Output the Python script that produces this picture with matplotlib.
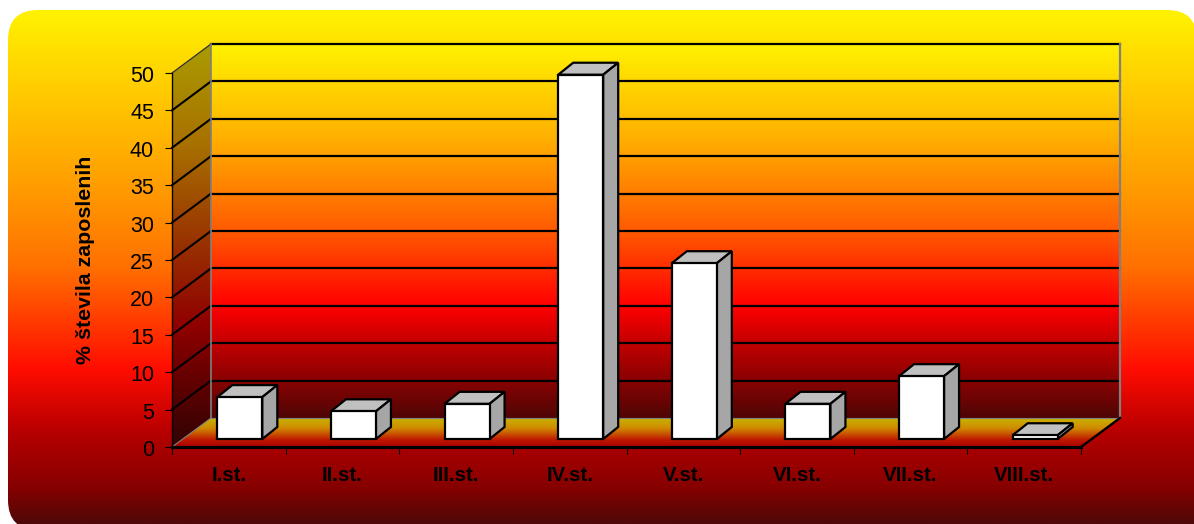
import numpy as np
import matplotlib
matplotlib.use('Agg')
import matplotlib.pyplot as plt
from matplotlib.colors import LinearSegmentedColormap
from matplotlib.patches import FancyBboxPatch, Polygon, Rectangle
from matplotlib.transforms import Affine2D

plt.rcParams['font.family'] = ['Liberation Sans', 'DejaVu Sans']

categories = ['I.st.', 'II.st.', 'III.st.', 'IV.st.', 'V.st.', 'VI.st.', 'VII.st.', 'VIII.st.']
values = [5.6, 3.7, 4.7, 48.7, 23.5, 4.7, 8.4, 0.5]
y_ticks = list(range(0, 55, 5))

W, H = 1194, 524
fig = plt.figure(figsize=(W / 100, H / 100), dpi=100)
fig.patch.set_facecolor('white')

# background panel with rounded corners, it runs off the bottom and right of the picture
bg = fig.add_axes([0, 0, 1, 1])
bg.axis('off')
panel_cmap = LinearSegmentedColormap.from_list('panel', [
    (0.0, '#fff200'), (0.33, '#ffa000'), (0.50, '#ff7000'),
    (0.70, '#ff0c00'), (0.82, '#b80000'), (0.93, '#860000'), (1.0, '#500808')])
panel_grad = np.linspace(0, 1, 256).reshape(-1, 1)
im = bg.imshow(panel_grad, cmap=panel_cmap, aspect='auto', extent=(8, W, H, 10))
box = FancyBboxPatch((38, 40), 1129, 460, boxstyle='round,pad=30', transform=bg.transData,
                     fc='none', ec='none')
bg.add_patch(box)
im.set_clip_path(box)
corner = bg.imshow(panel_grad, cmap=panel_cmap, aspect='auto', extent=(8, W, H, 10))
corner_clip = Rectangle((1100, 300), 94, 224, transform=bg.transData, fc='none', ec='none')
bg.add_patch(corner_clip)
corner.set_clip_path(corner_clip)
bg.set_xlim(0, W)
bg.set_ylim(H, 0)

# the plot area is the front plane of the chart
ax = fig.add_axes([172 / W, (H - 447) / H, (1081 - 172) / W, (447 - 73) / H])
ax.patch.set_visible(False)
n = len(categories)
ymax = y_ticks[-1]
px_x = (1081 - 172) / n
px_y = (447 - 73) / ymax

back = ax.transData + Affine2D().translate(39, 29)
front = ax.transData + Affine2D().translate(11, 8)
dx, dy = 39 / px_x, 29 / px_y
bar_dx, bar_dy = 15 / px_x, 12 / px_y

wall_cmap = LinearSegmentedColormap.from_list('wall', [
    (0.0, '#fff200'), (0.25, '#ffb000'), (0.50, '#ff5a00'),
    (0.70, '#ff0000'), (0.82, '#b80000'), (1.0, '#500505')])
side_cmap = LinearSegmentedColormap.from_list('side', [
    (0.0, '#aa9c00'), (0.25, '#a87000'), (0.50, '#983000'),
    (0.70, '#900000'), (0.82, '#680000'), (1.0, '#300303')])
floor_cmap = LinearSegmentedColormap.from_list('floor', [
    (0.0, '#c8b400'), (0.35, '#d08a00'), (0.75, '#c01800'), (1.0, '#a80000')])
grad = np.linspace(0, 1, 256).reshape(-1, 1)

ax.imshow(grad, cmap=wall_cmap, aspect='auto', extent=(0, n, 0, ymax), transform=back, zorder=1,
          clip_on=False)

side = ax.imshow(grad, cmap=side_cmap, aspect='auto', extent=(0, dx, 0, ymax + dy), zorder=1)
side.set_clip_box(fig.bbox)
side.set_clip_path(Polygon([(0, 0), (dx, dy), (dx, ymax + dy), (0, ymax)], transform=ax.transData))

floor = ax.imshow(grad, cmap=floor_cmap, aspect='auto', extent=(0, n + dx, 0, dy), zorder=1)
floor.set_clip_box(fig.bbox)
floor.set_clip_path(Polygon([(0, 0), (n, 0), (n + dx, dy), (dx, dy)], transform=ax.transData))

# grid lines, on the back wall and running down the side wall
for t in y_ticks[1:]:
    ax.plot([0, n], [t, t], color='black', lw=1.6, transform=back, zorder=2, clip_on=False)
    if t < ymax:
        ax.plot([0, dx], [t, t + dy], color='black', lw=1.5, zorder=2, clip_on=False)
ax.plot([0, dx], [ymax, ymax + dy], color='#303040', lw=0.9, zorder=2, clip_on=False)
ax.plot([0, 0], [0, ymax], color='#808080', lw=1.2, transform=back, zorder=2, clip_on=False)
ax.plot([n, n], [0, ymax], color='#808080', lw=1.6, transform=back, zorder=2, clip_on=False)
ax.plot([0, n], [0, 0], color='#808080', lw=0.8, transform=back, zorder=2, clip_on=False)
ax.plot([0, dx], [0, dy], color='#808080', lw=0.8, zorder=2, clip_on=False)
ax.plot([n, n + dx], [0, dy], color='black', lw=1.7, zorder=2, clip_on=False)

# bars
x = np.arange(n) + 0.5
bar_w = 45 / px_x
for xi, v in zip(x, values):
    l, r = xi - bar_w / 2, xi + bar_w / 2
    ax.add_patch(Polygon([(l, v), (r, v), (r + bar_dx, v + bar_dy), (l + bar_dx, v + bar_dy)],
                         fc='#c0c0c0', ec='black', lw=1.6, transform=front, zorder=3,
                         clip_on=False, joinstyle='miter'))
    ax.add_patch(Polygon([(r, 0), (r + bar_dx, bar_dy), (r + bar_dx, v + bar_dy), (r, v)],
                         fc='#a6a6a6', ec='black', lw=1.6, transform=front, zorder=3,
                         clip_on=False, joinstyle='miter'))
ax.bar(x, values, width=bar_w, color='white', edgecolor='black', linewidth=1.6, transform=front,
       zorder=4, clip_on=False)

ax.set_xlim(0, n)
ax.set_ylim(0, ymax)
for s in ['top', 'right']:
    ax.spines[s].set_visible(False)
ax.spines['left'].set_linewidth(1.0)
ax.spines['bottom'].set_linewidth(2.2)
ax.spines['left'].set_zorder(5)
ax.spines['bottom'].set_zorder(5)

ax.set_yticks(y_ticks)
ax.tick_params(axis='y', length=5, width=0.8, pad=8, labelsize=15.5, colors='black')
for lab in ax.get_yticklabels():
    lab.set_transform(lab.get_transform() + Affine2D().translate(0, -1))
ax.set_xticks(np.arange(n + 1))
ax.set_xticklabels([])
ax.tick_params(axis='x', which='major', length=5, width=0.8)
ax.set_xticks(x, minor=True)
ax.set_xticklabels(categories, minor=True, fontweight='bold', fontsize=14.7)
ax.tick_params(axis='x', which='minor', length=0, pad=14)

ax.set_ylabel('% števila zaposlenih', fontweight='bold', fontsize=15.4)
ax.yaxis.set_label_coords((95 - 172) / (1081 - 172), (447 - 260) / (447 - 73))

fig.savefig('out.png', dpi=100, facecolor='white')
